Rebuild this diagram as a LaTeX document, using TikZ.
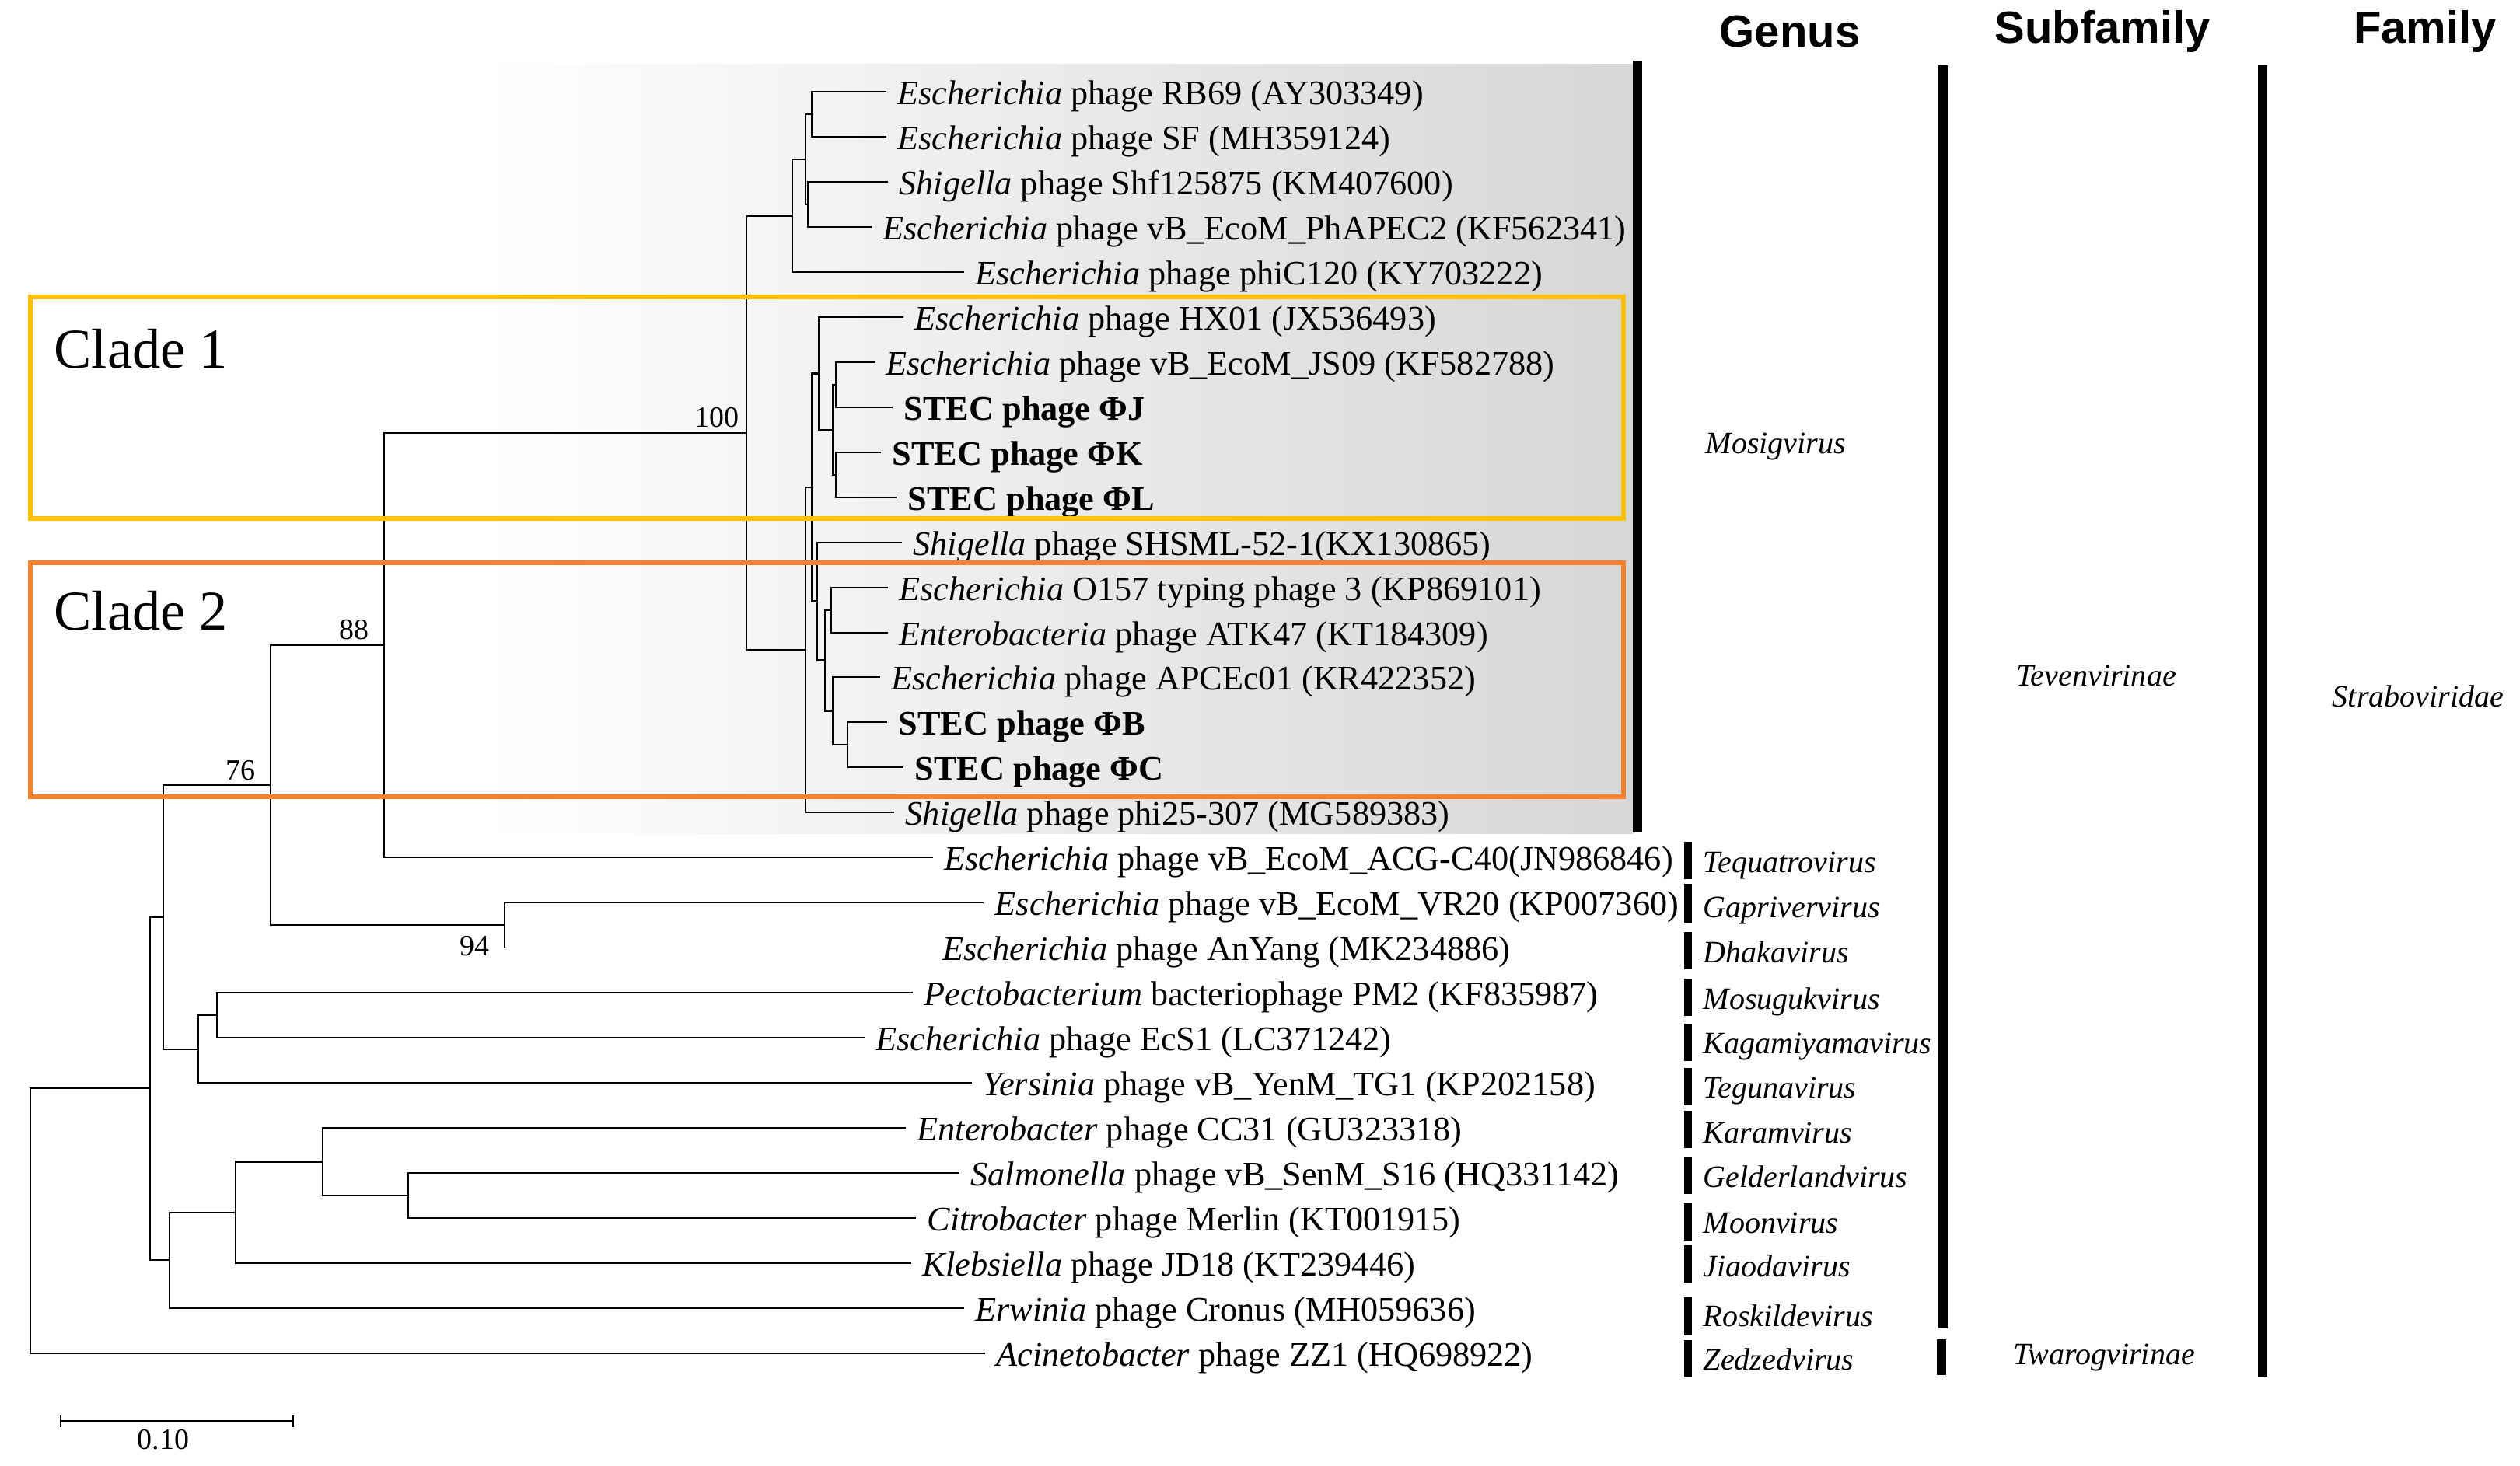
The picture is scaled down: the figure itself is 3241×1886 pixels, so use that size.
\documentclass[tikz,border=0pt]{standalone}
\usepackage{fontspec}
\setmainfont{Liberation Serif}
\newfontfamily\headfont{Liberation Sans}

\definecolor{cladeone}{HTML}{FFC000}
\definecolor{cladetwo}{HTML}{F7812F}

\tikzset{
  branch/.style={line width=0.22mm},
  leaf/.style={anchor=west, inner xsep=1.4mm, inner ysep=0pt, text height=11.4pt, text depth=1.95pt, font=\fontsize{12.6}{14}\selectfont},
  boot/.style={inner sep=0pt, font=\fontsize{10.8}{12}\selectfont},
  genus/.style={anchor=west, inner sep=0pt, text height=10.4pt, text depth=1.7pt, font=\fontsize{11.4}{13}\selectfont\itshape},
  rank/.style={inner sep=0pt, font=\fontsize{11.4}{13}\selectfont\itshape},
  head/.style={inner sep=0pt, font=\headfont\bfseries\fontsize{16.5}{18}\selectfont},
  taxbar/.style={line width=1.2mm},
  genbar/.style={line width=1mm},
  cladebox/.style={line width=0.6mm},
  cladetext/.style={anchor=west, inner sep=0pt, font=\fontsize{20.6}{24}\selectfont}
}

\begin{document}
\begin{tikzpicture}[x=0.1mm, y=-0.1mm]
    \useasboundingbox (0,0) rectangle (3241,1886);

    % Shaded background of the Mosigvirus group
    \shade[left color=white, right color=black!16] (620,82) rectangle (2100,1072);

    % Leaves
    \node[leaf] (l1) at (1140,118) {\textit{Escherichia} phage RB69 (AY303349)};
    \node[leaf] (l2) at (1140,176) {\textit{Escherichia} phage SF (MH359124)};
    \node[leaf] (l3) at (1142,234) {\textit{Shigella} phage Shf125875 (KM407600)};
    \node[leaf] (l4) at (1121,292) {\textit{Escherichia} phage vB\_EcoM\_PhAPEC2 (KF562341)};
    \node[leaf] (l5) at (1240,350) {\textit{Escherichia} phage phiC120 (KY703222)};
    \node[leaf] (l6) at (1162,408) {\textit{Escherichia} phage HX01 (JX536493)};
    \node[leaf] (l7) at (1125,466) {\textit{Escherichia} phage vB\_EcoM\_JS09 (KF582788)};
    \node[leaf] (l8) at (1148,524) {\textbf{STEC phage ΦJ}};
    \node[leaf] (l9) at (1133,582) {\textbf{STEC phage ΦK}};
    \node[leaf] (l10) at (1153,640) {\textbf{STEC phage ΦL}};
    \node[leaf] (l11) at (1160,698) {\textit{Shigella} phage SHSML-52-1(KX130865)};
    \node[leaf] (l12) at (1142,756) {\textit{Escherichia} O157 typing phage 3 (KP869101)};
    \node[leaf] (l13) at (1142,814) {\textit{Enterobacteria} phage ATK47 (KT184309)};
    \node[leaf] (l14) at (1132,871) {\textit{Escherichia} phage APCEc01 (KR422352)};
    \node[leaf] (l15) at (1141,929) {\textbf{STEC phage ΦB}};
    \node[leaf] (l16) at (1162,987) {\textbf{STEC phage ΦC}};
    \node[leaf] (l17) at (1150,1045) {\textit{Shigella} phage phi25-307 (MG589383)};
    \node[leaf] (l18) at (1200,1103) {\textit{Escherichia} phage vB\_EcoM\_ACG-C40(JN986846)};
    \node[leaf] (l19) at (1265,1161) {\textit{Escherichia} phage vB\_EcoM\_VR20 (KP007360)};
    \node[leaf] (l20) at (1198,1219) {\textit{Escherichia} phage AnYang (MK234886)};
    \node[leaf] (l21) at (1174,1277) {\textit{Pectobacterium} bacteriophage PM2 (KF835987)};
    \node[leaf] (l22) at (1112,1335) {\textit{Escherichia} phage EcS1 (LC371242)};
    \node[leaf] (l23) at (1250,1393) {\textit{Yersinia} phage vB\_YenM\_TG1 (KP202158)};
    \node[leaf] (l24) at (1165,1451) {\textit{Enterobacter} phage CC31 (GU323318)};
    \node[leaf] (l25) at (1234,1509) {\textit{Salmonella} phage vB\_SenM\_S16 (HQ331142)};
    \node[leaf] (l26) at (1178,1567) {\textit{Citrobacter} phage Merlin (KT001915)};
    \node[leaf] (l27) at (1172,1625) {\textit{Klebsiella} phage JD18 (KT239446)};
    \node[leaf] (l28) at (1240,1683) {\textit{Erwinia} phage Cronus (MH059636)};
    \node[leaf] (l29) at (1267,1741) {\textit{Acinetobacter} phage ZZ1 (HQ698922)};

    % Inner nodes
    \coordinate (n1) at (1044,147);
    \coordinate (n2) at (1039,263);
    \coordinate (n3) at (1036,205);
    \coordinate (n4) at (1019,277.5);
    \coordinate (n5) at (1075,495);
    \coordinate (n6) at (1075,611);
    \coordinate (n7) at (1071,553);
    \coordinate (n8) at (1053,480.5);
    \coordinate (n9) at (1069,785);
    \coordinate (n10) at (1090,958);
    \coordinate (n11) at (1071,914.5);
    \coordinate (n12) at (1061,849.5);
    \coordinate (n13) at (1051,773.5);
    \coordinate (n14) at (1044,627);
    \coordinate (n15) at (1036,836);
    \coordinate (n16) at (960,557);
    \coordinate (n17) at (494,830);
    \coordinate (n18) at (649,1190);
    \coordinate (n19) at (348,1010);
    \coordinate (n20) at (279,1306);
    \coordinate (n21) at (255,1350);
    \coordinate (n22) at (210,1180);
    \coordinate (n23) at (525,1538);
    \coordinate (n24) at (415,1494.5);
    \coordinate (n25) at (303,1560);
    \coordinate (n26) at (218,1621);
    \coordinate (n27) at (193,1400);
    \coordinate (root) at (39,1571);

    % Branches
    \draw[branch] (l1.west) -| (n1) |- (l2.west);
    \draw[branch] (l3.west) -| (n2) |- (l4.west);
    \draw[branch] (n1) -| (n3) |- (n2);
    \draw[branch] (n3) -| (n4) |- (l5.west);
    \draw[branch] (l7.west) -| (n5) |- (l8.west);
    \draw[branch] (l9.west) -| (n6) |- (l10.west);
    \draw[branch] (n5) -| (n7) |- (n6);
    \draw[branch] (l6.west) -| (n8) |- (n7);
    \draw[branch] (l12.west) -| (n9) |- (l13.west);
    \draw[branch] (l15.west) -| (n10) |- (l16.west);
    \draw[branch] (l14.west) -| (n11) |- (n10);
    \draw[branch] (n9) -| (n12) |- (n11);
    \draw[branch] (l11.west) -| (n13) |- (n12);
    \draw[branch] (n8) -| (n14) |- (n13);
    \draw[branch] (n14) -| (n15) |- (l17.west);
    \draw[branch] (n4) -| (n16) |- (n15);
    \draw[branch] (n16) -| (n17) |- (l18.west);
    \draw[branch] (l19.west) -| (n18) -- (n18 |- l20.west);
    \draw[branch] (n17) -| (n19) |- (n18);
    \draw[branch] (l21.west) -| (n20) |- (l22.west);
    \draw[branch] (n20) -| (n21) |- (l23.west);
    \draw[branch] (n19) -| (n22) |- (n21);
    \draw[branch] (l25.west) -| (n23) |- (l26.west);
    \draw[branch] (l24.west) -| (n24) |- (n23);
    \draw[branch] (n24) -| (n25) |- (l27.west);
    \draw[branch] (n25) -| (n26) |- (l28.west);
    \draw[branch] (n22) -| (n27) |- (n26);
    \draw[branch] (n27) -| (root) |- (l29.west);

    % Bootstrap values
    \node[boot] (b100) at (922,537) {100};
    \node[boot] (b88) at (455,810) {88};
    \node[boot] (b76) at (309,991) {76};
    \node[boot] (b94) at (610,1217) {94};

    % Clade boxes
    \draw[cladebox, cladeone] (39,382) rectangle (2088,667);
    \draw[cladebox, cladetwo] (39,724) rectangle (2088,1025);
    \node[cladetext] (clade1) at (69,449) {Clade 1};
    \node[cladetext] (clade2) at (69,786) {Clade 2};

    % Scale bar
    \coordinate (sb1) at (78,1828);
    \coordinate (sb2) at (377,1828);
    \draw[branch] (sb1) -- (sb2);
    \draw[branch] ([yshift=-0.75mm]sb1) -- ([yshift=0.75mm]sb1);
    \draw[branch] ([yshift=-0.75mm]sb2) -- ([yshift=0.75mm]sb2);
    \node[boot] (scale) at (210,1852) {0.10};

    % Headers
    \node[head] (genus) at (2302,41) {Genus};
    \node[head] (subfamily) at (2704,41) {Subfamily};
    \node[head] (family) at (3119,41) {Family};

    % Genus bars
    \draw[taxbar] (2106,78) -- (2106,1071);
    \node[genus] (g1) at (2193,568) {Mosigvirus};

    \draw[genbar] (2171,1083) -- (2171,1131);
    \node[genus] (g2) at (2190,1107) {Tequatrovirus};
    \draw[genbar] (2171,1137) -- (2171,1188);
    \node[genus] (g3) at (2190,1165) {Gaprivervirus};
    \draw[genbar] (2171,1199) -- (2171,1247);
    \node[genus] (g4) at (2190,1223) {Dhakavirus};
    \draw[genbar] (2171,1259) -- (2171,1307);
    \node[genus] (g5) at (2190,1283) {Mosugukvirus};
    \draw[genbar] (2171,1317) -- (2171,1365);
    \node[genus] (g6) at (2190,1340) {Kagamiyamavirus};
    \draw[genbar] (2171,1374) -- (2171,1422);
    \node[genus] (g7) at (2190,1397) {Tegunavirus};
    \draw[genbar] (2171,1429) -- (2171,1477);
    \node[genus] (g8) at (2190,1455) {Karamvirus};
    \draw[genbar] (2171,1488) -- (2171,1536);
    \node[genus] (g9) at (2190,1512) {Gelderlandvirus};
    \draw[genbar] (2171,1548) -- (2171,1596);
    \node[genus] (g10) at (2190,1571) {Moonvirus};
    \draw[genbar] (2171,1602) -- (2171,1650);
    \node[genus] (g11) at (2190,1627) {Jiaodavirus};
    \draw[genbar] (2171,1669) -- (2171,1718);
    \node[genus] (g12) at (2190,1691) {Roskildevirus};
    \draw[genbar] (2171,1724) -- (2171,1772);
    \node[genus] (g13) at (2190,1747) {Zedzedvirus};

    % Subfamily bars
    \draw[taxbar] (2499,84) -- (2499,1709);
    \node[rank] (teven) at (2696,869) {Tevenvirinae};
    \draw[taxbar] (2497,1723) -- (2497,1769);
    \node[rank] (twarog) at (2706,1746) {Twarogvirinae};

    % Family bar
    \draw[taxbar] (2910,84) -- (2910,1771);
    \node[rank] (strabo) at (3110,896) {Straboviridae};
  \end{tikzpicture}
\end{document}
